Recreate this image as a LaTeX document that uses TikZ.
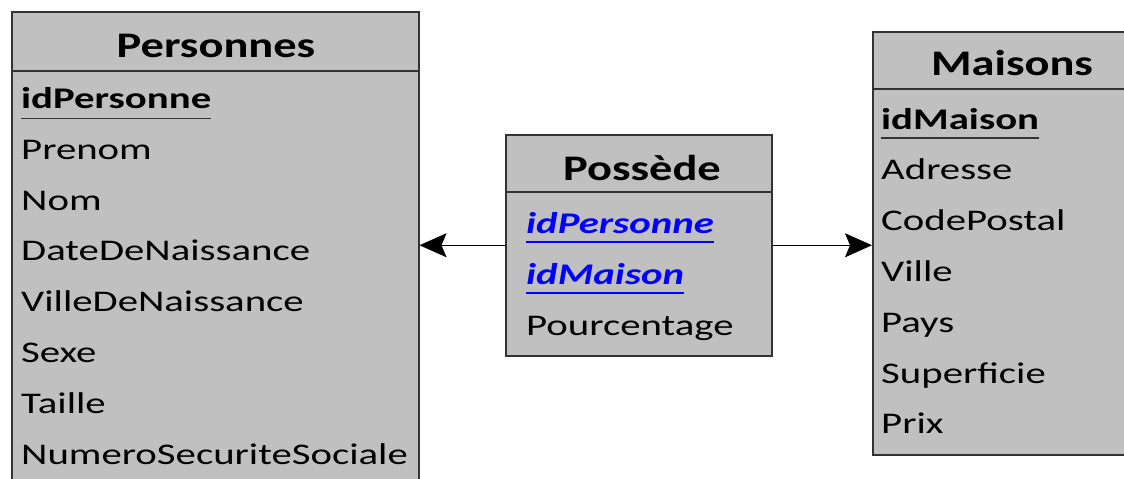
\documentclass[tikz,border=0pt]{standalone}
\usepackage{xcolor}
\usepackage{tikz}
\usepackage{fontspec}
\setmainfont{Carlito}
\newfontfamily\fieldfont[FakeStretch=1.36]{Carlito}
\newfontfamily\titlefont[FakeStretch=1.29]{Carlito}
\usetikzlibrary{arrows.meta,positioning,calc}
\definecolor{erdfill}{HTML}{C0C0C0}
\definecolor{erdline}{HTML}{333333}
\definecolor{erdfkey}{HTML}{0000FF}
\tikzstyle{tablebox} = [draw=erdline, line width=1.5pt, fill=erdfill, rectangle, inner sep=0pt, anchor=north west]
\tikzstyle{tabletitle} = [font=\titlefont\bfseries\fontsize{36}{40}\selectfont, inner sep=0pt, anchor=base]
\tikzstyle{field} = [font=\fieldfont\fontsize{30}{34}\selectfont, inner sep=0pt, anchor=base west]
\tikzstyle{pkfield} = [field, font=\fieldfont\bfseries\fontsize{30}{34}\selectfont]
\tikzstyle{fkfield} = [field, font=\fieldfont\bfseries\itshape\fontsize{30}{34}\selectfont, text=erdfkey]
\tikzstyle{arrow} = [-{Stealth[length=27pt, width=24pt, inset=5pt]}, line width=1.5pt, black]

\begin{document}
\begin{tikzpicture}[x=1pt, y=-1pt]
\useasboundingbox (0,0) rectangle (1124,479);

% Personnes
\node[tablebox, minimum width=407pt, minimum height=479pt] (personnes) at (11,11) {};
\draw[erdline, line width=1.5pt] (11,71) -- (418,71);
\node[tabletitle] (personnes-title) at (216,57) {Personnes};
\node[pkfield] (p-0) at (21,108.5) {idPersonne};
\draw[line width=1.5pt, erdline] ([yshift=-10pt]p-0.base west) -- ([yshift=-10pt]p-0.base east);
\foreach \name [count=\i] in {Prenom,Nom,DateDeNaissance,VilleDeNaissance,Sexe,Taille,NumeroSecuriteSociale}{
  \node[field] (p-\i) at (21,108.5+50.8*\i) {\name};
}

% Possede
\node[tablebox, minimum width=266pt, minimum height=221pt] (possede) at (505,134) {};
\draw[erdline, line width=1.5pt] (505,192) -- (771,192);
\node[tabletitle] (possede-title) at (642,180) {Possède};
\node[fkfield] (o-0) at (526,233) {idPersonne};
\node[fkfield] (o-1) at (526,284) {idMaison};
\node[field] (o-2) at (526,335) {Pourcentage};
\foreach \i in {0,1}{
  \draw[line width=1.5pt, erdfkey] ([yshift=-9pt]o-\i.base west) -- ([yshift=-9pt]o-\i.base east);
}

% Maisons
\node[tablebox, minimum width=281pt, minimum height=423pt] (maisons) at (872,31) {};
\draw[erdline, line width=1.5pt] (872,89) -- (1153,89);
\node[tabletitle] (maisons-title) at (1012,75) {Maisons};
\node[pkfield] (m-0) at (881,129) {idMaison};
\draw[line width=1.5pt, erdline] ([yshift=-9pt]m-0.base west) -- ([yshift=-9pt]m-0.base east);
\foreach \name [count=\i] in {Adresse,CodePostal,Ville,Pays,Superficie,Prix}{
  \node[field] (m-\i) at (881,129+50.8*\i) {\name};
}

% relations
\draw[arrow] (possede.west) -- (possede.west -| personnes.east);
\draw[arrow] (possede.east) -- (possede.east -| maisons.west);
\end{tikzpicture}
\end{document}
